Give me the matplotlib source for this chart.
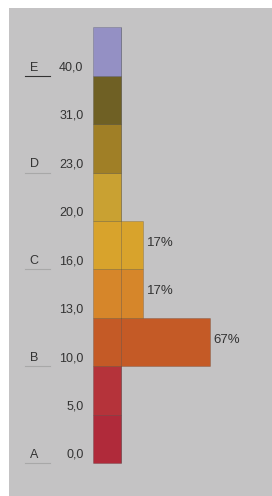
import matplotlib.pyplot as plt

# colour scale bands, bottom to top
levels = ["0,0", "5,0", "10,0", "13,0", "16,0", "20,0", "23,0", "31,0", "40,0"]
letters = {0: "A", 2: "B", 4: "C", 6: "D", 8: "E"}
band_colors = ["#b02a3a", "#b5333a", "#c45a26", "#d6862a", "#d8a32c",
               "#c9a132", "#a07f26", "#6f6024", "#9490c4"]
shares = [0, 0, 67, 17, 17, 0, 0, 0, 0]

BG = "#c4c3c4"
TXT = "#333333"
COL_W = 21  # width of the scale column, in % units

fig = plt.figure(figsize=(2.72, 4.96), dpi=100, facecolor="white")
ax = fig.add_axes([9 / 272, 0, 263 / 272, 488 / 496])
ax.set_facecolor(BG)

y = list(range(len(levels)))
ax.barh(y, [COL_W] * len(y), left=-COL_W, height=1, align="edge",
        color=band_colors, edgecolor=(0, 0, 0, 0.18), linewidth=0.6)
ax.barh(y, shares, left=0, height=1, align="edge",
        color=band_colors, edgecolor=(0, 0, 0, 0.18), linewidth=0.6)

for i, lab in enumerate(levels):
    ax.text(-28, i + 0.17, lab, ha="right", va="center", color=TXT,
            fontsize=9, family="Liberation Sans")
    if i in letters:
        ax.text(-65, i + 0.17, letters[i], ha="center", va="center",
                color=TXT, fontsize=9, family="Liberation Sans")
        ax.plot([-72, -53], [i, i],
                color="#333333" if i == 8 else "#a8a8a8", lw=0.8)

for i, s in enumerate(shares):
    if s:
        ax.text(s + 3, i + 0.55, f"{s}%", ha="left", va="center",
                color=TXT, fontsize=9.5, family="Liberation Sans")

ax.set_xlim(-84, 114)
ax.set_ylim(-0.68, 9.4)
ax.set_xticks([])
ax.set_yticks([])
for spine in ax.spines.values():
    spine.set_visible(False)

fig.savefig("out.png", dpi=100, facecolor="white")
